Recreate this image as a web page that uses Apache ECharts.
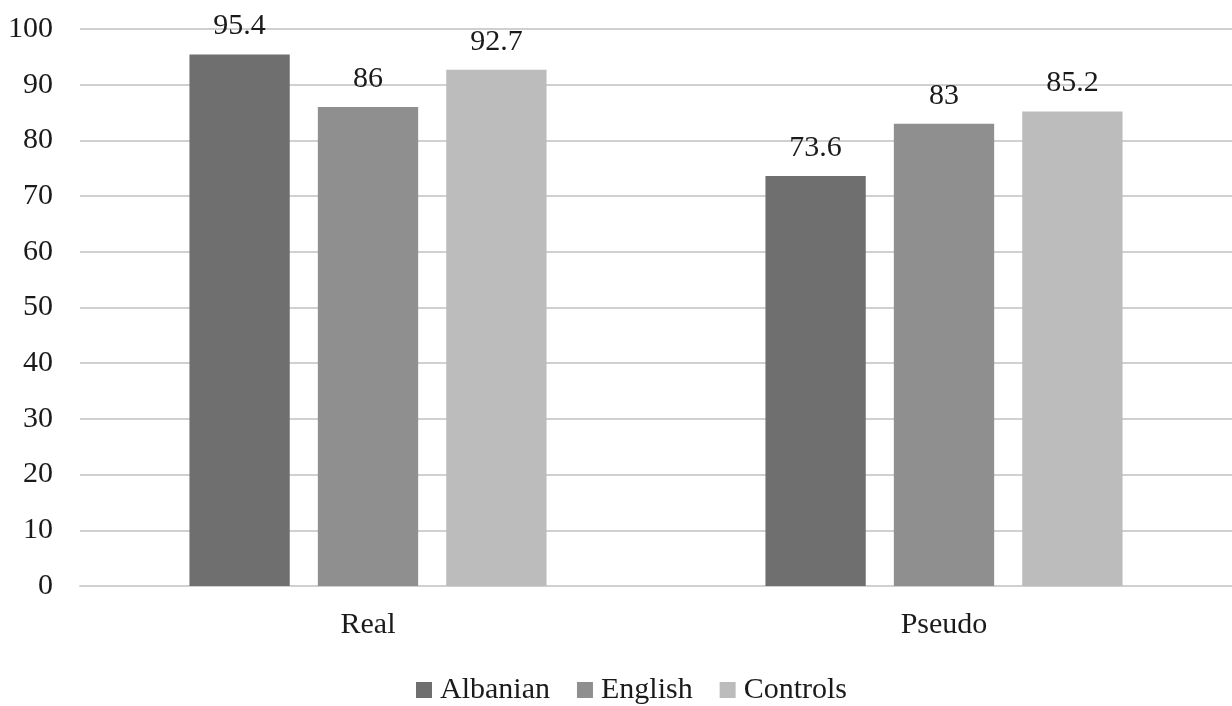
<!DOCTYPE html>
<html>
<head>
<meta charset="utf-8">
<script src="https://cdn.jsdelivr.net/npm/echarts@6/dist/echarts.min.js"></script>
<style>
  html, body { margin: 0; padding: 0; background: #ffffff; }
  #chart { width: 1232px; height: 706px; }
</style>
</head>
<body>
<div id="chart"></div>
<script>
// Categories and group values
const categories = ['Real', 'Pseudo'];
const albanian = [95.4, 73.6];
const english = [86, 83];
const controls = [92.7, 85.2];
const yTicks = [0, 10, 20, 30, 40, 50, 60, 70, 80, 90, 100];

const FONT = '"Liberation Serif", "Times New Roman", serif';
const TEXT = '#1a1a1a';

function barSeries(name, data, color) {
  return {
    name: name,
    type: 'bar',
    data: data,
    barGap: '28%',
    barCategoryGap: '38%',
    itemStyle: { color: color },
    label: {
      show: true,
      position: 'top',
      distance: 13,
      color: TEXT,
      fontFamily: FONT,
      fontSize: 30
    }
  };
}

const chart = echarts.init(document.getElementById('chart'), null, { renderer: 'canvas' });
chart.setOption({
  animation: false,
  backgroundColor: '#ffffff',
  grid: { left: 80, right: 0, top: 29, bottom: 120, containLabel: false },
  legend: {
    bottom: -4,
    left: 411,
    itemWidth: 16,
    itemHeight: 16,
    itemGap: 27,
    icon: 'rect',
    textStyle: { color: TEXT, fontFamily: FONT, fontSize: 30, padding: [0, 0, 0, 3] },
    data: ['Albanian', 'English', 'Controls']
  },
  xAxis: {
    type: 'category',
    data: categories,
    axisLine: { show: true, lineStyle: { color: '#d0d0d0', width: 2 } },
    axisTick: { show: false },
    axisLabel: { color: TEXT, fontFamily: FONT, fontSize: 30, margin: 24 }
  },
  yAxis: {
    type: 'value',
    min: yTicks[0],
    max: yTicks[yTicks.length - 1],
    interval: 10,
    axisLine: { show: false },
    axisTick: { show: false },
    axisLabel: { color: TEXT, fontFamily: FONT, fontSize: 30, margin: 27 },
    splitLine: { show: true, lineStyle: { color: '#d0d0d0', width: 2 } }
  },
  series: [
    barSeries('Albanian', albanian, '#6f6f6f'),
    barSeries('English', english, '#8f8f8f'),
    barSeries('Controls', controls, '#bcbcbc')
  ]
});
</script>
</body>
</html>
